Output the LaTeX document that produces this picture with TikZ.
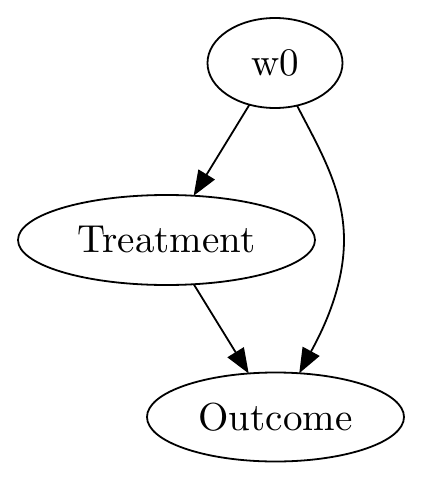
\documentclass[tikz,border=0pt]{standalone}
\usepackage{graphicx}
\usetikzlibrary{shapes.geometric,arrows.meta}
\newcommand{\glabel}[1]{\scalebox{1.95}{#1}}
\begin{document}
\begin{tikzpicture}[x=0.5pt,y=-0.5pt,
  gnode/.style={draw,ellipse,inner sep=0pt,outer sep=0pt,line width=0.9pt,font=\fontsize{10}{12}\selectfont},
  edge/.style={line width=0.9pt,-{Triangle[length=12.5pt,width=9.5pt]}}]
\useasboundingbox (0,0) rectangle (423,482);
\node[gnode,minimum width=67.5pt,minimum height=45pt] (w0) at (275,63) {\glabel{w0}};
\node[gnode,minimum width=148.5pt,minimum height=45pt] (T) at (166.5,240) {\glabel{Treatment}};
\node[gnode,minimum width=128.5pt,minimum height=44.5pt] (O) at (275.5,417) {\glabel{Outcome}};
\draw[edge] (w0) -- (T);
\draw[edge] (T) -- (O);
\coordinate (m) at (344,240);
\draw[edge] (w0) .. controls (320,150) and (344,190) .. (m) .. controls (344,290) and (320,335) .. (O);
\end{tikzpicture}
\end{document}
